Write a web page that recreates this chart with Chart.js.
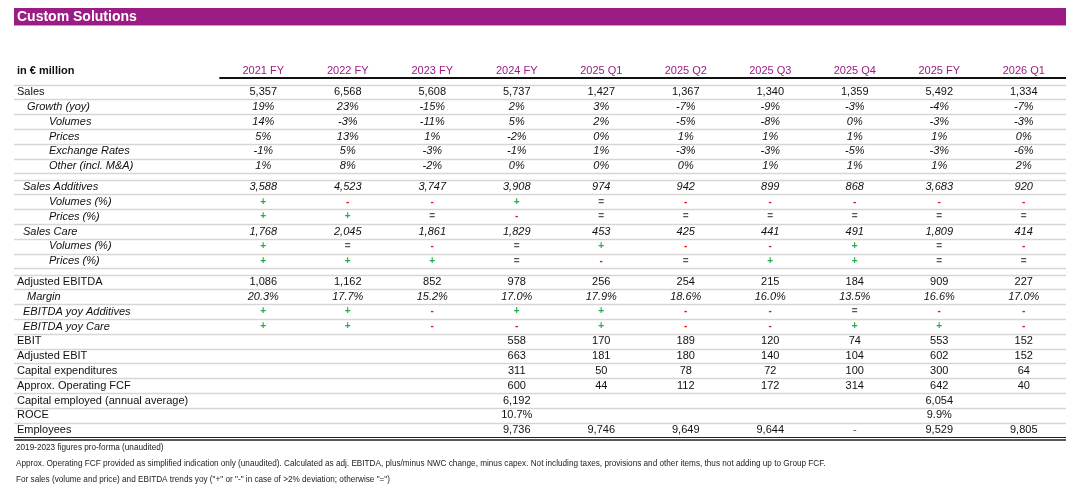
<!DOCTYPE html>
<html>
<head>
<meta charset="utf-8">
<title>Custom Solutions</title>
<script src="https://cdn.jsdelivr.net/npm/chart.js@4"></script>
<style>
  html, body { margin: 0; padding: 0; background: #fff; }
  #table { display: block; }
</style>
</head>
<body>
<canvas id="table" width="1080" height="489"></canvas>
<script>
// columns of the report
const columnLabels = ["2021 FY", "2022 FY", "2023 FY", "2024 FY", "2025 Q1", "2025 Q2", "2025 Q3", "2025 Q4", "2025 FY", "2026 Q1"];

// sales block
const sales = [5357, 6568, 5608, 5737, 1427, 1367, 1340, 1359, 5492, 1334];
const salesGrowth = [19, 23, -15, 2, 3, -7, -9, -3, -4, -7];
const salesVolumes = [14, -3, -11, 5, 2, -5, -8, 0, -3, -3];
const salesPrices = [5, 13, 1, -2, 0, 1, 1, 1, 1, 0];
const exchangeRates = [-1, 5, -3, -1, 1, -3, -3, -5, -3, -6];
const otherInclMA = [1, 8, -2, 0, 0, 0, 1, 1, 1, 2];

// segments
const salesAdditives = [3588, 4523, 3747, 3908, 974, 942, 899, 868, 3683, 920];
const additivesVolumes = ["+", "-", "-", "+", "=", "-", "-", "-", "-", "-"];
const additivesPrices = ["+", "+", "=", "-", "=", "=", "=", "=", "=", "="];
const salesCare = [1768, 2045, 1861, 1829, 453, 425, 441, 491, 1809, 414];
const careVolumes = ["+", "=", "-", "=", "+", "-", "-", "+", "=", "-"];
const carePrices = ["+", "+", "+", "=", "-", "=", "+", "+", "=", "="];

// earnings block
const adjEbitda = [1086, 1162, 852, 978, 256, 254, 215, 184, 909, 227];
const ebitdaMargin = [20.3, 17.7, 15.2, 17.0, 17.9, 18.6, 16.0, 13.5, 16.6, 17.0];
const ebitdaYoyAdditives = ["+", "+", "-", "+", "+", "-", "-", "=", "-", "-"];
const ebitdaYoyCare = ["+", "+", "-", "-", "+", "-", "-", "+", "+", "-"];
const ebit = [null, null, null, 558, 170, 189, 120, 74, 553, 152];
const adjEbit = [null, null, null, 663, 181, 180, 140, 104, 602, 152];
const capex = [null, null, null, 311, 50, 78, 72, 100, 300, 64];
const operatingFcf = [null, null, null, 600, 44, 112, 172, 314, 642, 40];
const capitalEmployed = [null, null, null, 6192, null, null, null, null, 6054, null];
const roce = [null, null, null, 10.7, null, null, null, null, 9.9, null];
const employees = [null, null, null, 9736, 9746, 9649, 9644, "-", 9529, 9805];

const titleText = "Custom Solutions";
const unitText = "in € million";
const footnotes = [
  "2019-2023 figures pro-forma (unaudited)",
  "Approx. Operating FCF provided as simplified indication only (unaudited). Calculated as adj. EBITDA, plus/minus NWC change, minus capex. Not including taxes, provisions and other items, thus not adding up to Group FCF.",
  "For sales (volume and price) and EBITDA trends yoy (\"+\" or \"-\" in case of >2% deviation; otherwise \"=\")",
];

const FONT = "'Liberation Sans', Arial, Helvetica, sans-serif";
const PURPLE = "#9c1c85";
const ROW_GAP = 0.42;

const fmtInt = (v) => v.toLocaleString("en-US");
const fmtPct = (v) => `${v}%`;
const fmtPct1 = (v) => `${v.toFixed(1)}%`;

const tableRows = [
  { label: "Sales", values: sales, format: fmtInt, indent: 3 },
  { label: "Growth (yoy)", values: salesGrowth, format: fmtPct, indent: 13, italic: true },
  { label: "Volumes", values: salesVolumes, format: fmtPct, indent: 35, italic: true },
  { label: "Prices", values: salesPrices, format: fmtPct, indent: 35, italic: true },
  { label: "Exchange Rates", values: exchangeRates, format: fmtPct, indent: 35, italic: true },
  { label: "Other (incl. M&A)", values: otherInclMA, format: fmtPct, indent: 35, italic: true },
  { label: "Sales Additives", values: salesAdditives, format: fmtInt, indent: 9, italic: true, gapBefore: true },
  { label: "Volumes (%)", values: additivesVolumes, indent: 35, italic: true, sign: true },
  { label: "Prices (%)", values: additivesPrices, indent: 35, italic: true, sign: true },
  { label: "Sales Care", values: salesCare, format: fmtInt, indent: 9, italic: true },
  { label: "Volumes (%)", values: careVolumes, indent: 35, italic: true, sign: true },
  { label: "Prices (%)", values: carePrices, indent: 35, italic: true, sign: true },
  { label: "Adjusted EBITDA", values: adjEbitda, format: fmtInt, indent: 3, gapBefore: true },
  { label: "Margin", values: ebitdaMargin, format: fmtPct1, indent: 13, italic: true },
  { label: "EBITDA yoy Additives", values: ebitdaYoyAdditives, indent: 9, italic: true, sign: true },
  { label: "EBITDA yoy Care", values: ebitdaYoyCare, indent: 9, italic: true, sign: true },
  { label: "EBIT", values: ebit, format: fmtInt, indent: 3 },
  { label: "Adjusted EBIT", values: adjEbit, format: fmtInt, indent: 3 },
  { label: "Capital expenditures", values: capex, format: fmtInt, indent: 3 },
  { label: "Approx. Operating FCF", values: operatingFcf, format: fmtInt, indent: 3 },
  { label: "Capital employed (annual average)", values: capitalEmployed, format: fmtInt, indent: 3 },
  { label: "ROCE", values: roce, format: fmtPct1, indent: 3 },
  { label: "Employees", values: employees, format: fmtInt, indent: 3 },
];

// row positions in row units, with a small gap before each block
let rowCursor = 0;
tableRows.forEach((row) => {
  if (row.gapBefore) rowCursor += ROW_GAP;
  row.pos = rowCursor;
  rowCursor += 1;
});

const signColors = { "+": "#1fae45", "-": "#e8141c", "=": "#555555" };

function cellText(row, value) {
  if (typeof value === "string") return value;
  return row.format ? row.format(value) : String(value);
}

const datasets = tableRows.map((row) => ({
  label: row.label,
  data: row.values
    .map((value, col) => (value === null ? null : { x: col, y: row.pos, text: cellText(row, value) }))
    .filter(Boolean),
  pointRadius: 0,
  pointHoverRadius: 0,
  showLine: false,
}));

function hLine(ctx, x1, x2, y, width, color) {
  ctx.save();
  ctx.strokeStyle = color;
  ctx.lineWidth = width;
  ctx.beginPath();
  ctx.moveTo(x1, y);
  ctx.lineTo(x2, y);
  ctx.stroke();
  ctx.restore();
}

const tablePlugin = {
  id: "tablePlugin",
  afterDatasetsDraw(chart) {
    const { ctx, chartArea, scales } = chart;
    const x = scales.x;
    const y = scales.y;
    const left = chartArea.left;
    const right = chartArea.right;

    // title bar
    const barTop = y.getPixelForValue(-5.68);
    const barBottom = y.getPixelForValue(-4.5);
    ctx.save();
    ctx.fillStyle = PURPLE;
    ctx.fillRect(left, barTop, right - left, barBottom - barTop);
    ctx.fillStyle = "#ffffff";
    ctx.font = `bold 14px ${FONT}`;
    ctx.textBaseline = "middle";
    ctx.textAlign = "left";
    ctx.fillText(titleText, left + 3, (barTop + barBottom) / 2 + 0.5);
    ctx.restore();

    // header row
    const headerY = y.getPixelForValue(-1.45);
    ctx.save();
    ctx.textBaseline = "middle";
    ctx.font = `bold 11px ${FONT}`;
    ctx.fillStyle = "#111";
    ctx.textAlign = "left";
    ctx.fillText(unitText, left + 3, headerY);
    ctx.font = `11px ${FONT}`;
    ctx.fillStyle = PURPLE;
    ctx.textAlign = "center";
    columnLabels.forEach((label, col) => ctx.fillText(label, x.getPixelForValue(col), headerY));
    ctx.restore();
    hLine(ctx, x.getPixelForValue(-0.52), right, y.getPixelForValue(-0.95), 2, "#111");

    // row separators
    tableRows.forEach((row, idx) => {
      hLine(ctx, left, right, Math.round(y.getPixelForValue(row.pos - 0.5)) + 0.5, 1.5, "#d6d6d6");
      if (idx === tableRows.length - 1) return;
      const next = tableRows[idx + 1];
      if (next.gapBefore) hLine(ctx, left, right, Math.round(y.getPixelForValue(row.pos + 0.5)) + 0.5, 1.5, "#d6d6d6");
    });
    const lastRow = tableRows[tableRows.length - 1];
    const bottomY = y.getPixelForValue(lastRow.pos + 0.5);
    hLine(ctx, left, right, bottomY, 1.2, "#222");
    hLine(ctx, left, right, bottomY + 2.5, 1.5, "#222");

    // row labels and cells
    ctx.save();
    ctx.textBaseline = "middle";
    tableRows.forEach((row, idx) => {
      const rowY = y.getPixelForValue(row.pos);
      ctx.font = `${row.italic ? "italic " : ""}11px ${FONT}`;
      ctx.fillStyle = "#111";
      ctx.textAlign = "left";
      ctx.fillText(row.label, left + row.indent, rowY);

      const meta = chart.getDatasetMeta(idx);
      meta.data.forEach((point, j) => {
        const text = chart.data.datasets[idx].data[j].text;
        ctx.textAlign = "center";
        if (row.sign) {
          ctx.font = `bold 10px ${FONT}`;
          ctx.fillStyle = signColors[text] || "#111";
        } else if (text === "-") {
          ctx.font = `11px ${FONT}`;
          ctx.fillStyle = "#555";
        } else {
          ctx.font = `${row.italic ? "italic " : ""}11px ${FONT}`;
          ctx.fillStyle = "#111";
        }
        ctx.fillText(text, point.x, point.y);
      });
    });
    ctx.restore();

    // footnotes
    ctx.save();
    ctx.font = `8.2px ${FONT}`;
    ctx.fillStyle = "#222";
    ctx.textBaseline = "middle";
    ctx.textAlign = "left";
    [24.05, 25.12, 26.22].forEach((pos, i) => ctx.fillText(footnotes[i], left + 2, y.getPixelForValue(pos)));
    ctx.restore();
  },
};

new Chart(document.getElementById("table"), {
  type: "scatter",
  data: { datasets },
  options: {
    responsive: false,
    animation: false,
    events: [],
    layout: { padding: { left: 14, right: 14, top: 0, bottom: 0 } },
    plugins: { legend: { display: false }, tooltip: { enabled: false }, title: { display: false } },
    scales: {
      x: { type: "linear", display: false, min: -2.95, max: 9.5 },
      y: { type: "linear", display: false, reverse: true, min: -6.22, max: 26.82 },
    },
  },
  plugins: [tablePlugin],
});
</script>
</body>
</html>
